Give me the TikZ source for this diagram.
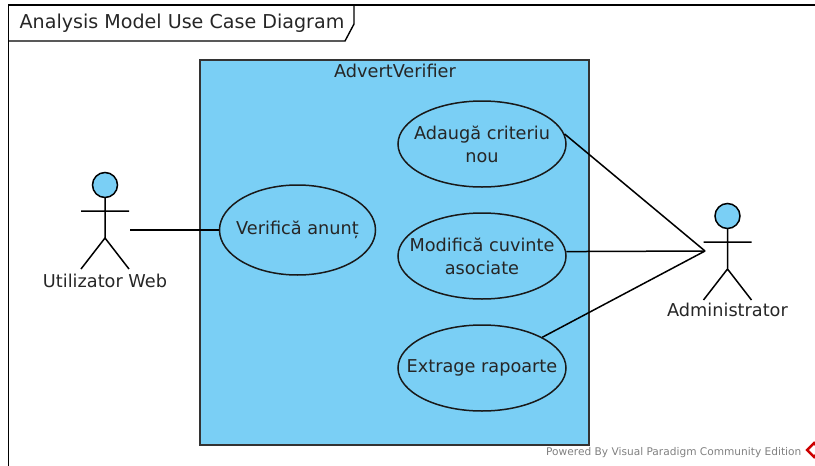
\documentclass[tikz,border=0pt]{standalone}
\usepackage{fontspec}
\setmainfont{DejaVu Sans}
\usepackage{tikz}
\usetikzlibrary{matrix,chains,scopes,shapes.geometric}

\definecolor{vpblue}{HTML}{7ACFF5}
\tikzset{
    usecase/.style={draw=black!90, fill=vpblue, ellipse, line width=1.5pt, inner xsep=-25pt, inner ysep=0pt,
        minimum width=168pt, minimum height=86pt, align=center, font=\fontsize{17.7}{23}\selectfont, text=black!85},
    actorlabel/.style={font=\fontsize{17.7}{21}\selectfont, text=black!85, inner sep=0pt},
    pics/stickman/.style={code={
        \draw[line width=1.5pt, fill=vpblue] (0,0) circle (12.5);
        \draw[line width=1.5pt] (0,12.5) -- (0,53) (-24,26) -- (24,26)
            (-24,84) -- (0,53) -- (24,84);
    }}
}

\begin{document}
\begin{tikzpicture}[
    x=1pt, y=-1pt,
    every on chain/.append style={join},
    every join/.style={line width=1.5pt}
    ]
    \useasboundingbox (0,0) rectangle (815,466);
    % frame and its tab
    \draw[line width=1.4pt] (8.5,466) -- (8.5,5) -- (815,5);
    \draw[line width=1.4pt] (8.5,41) -- (345,41) -- (354,24) -- (354,5);
    \node[font=\fontsize{19.1}{23}\selectfont, text=black!85, inner sep=0pt] (frametitle) at (182,23) {Analysis Model Use Case Diagram};

    % system box
    \node[draw=black!80, fill=vpblue, line width=1.8pt, minimum width=389pt, minimum height=385pt, inner sep=0pt] (system) at (394.5,252.5) {};
    \node[font=\fontsize{17.7}{21}\selectfont, text=black!85, inner sep=0pt] (systemtitle) at (395,71) {AdvertVerifier};

    \matrix (m) [row sep=24.5pt] at (482,256)
    {
        \node[usecase] (adauga) {Adaugă criteriu\\nou}; \\
        \node[usecase] (modifica) {Modifică cuvinte\\asociate}; \\
        \node[usecase] (extrage) {Extrage rapoarte}; \\
    };
    \node[usecase, minimum width=156pt, minimum height=90pt] (verifica) at (297.5,230) {Verifică anunț};

    % actors
    \pic at (105,185) {stickman};
    \pic at (727.5,216) {stickman};
    \node[actorlabel] (web) at (105,281) {Utilizator Web};
    \node[actorlabel] (admin) at (727.5,310) {Administrator};
    \coordinate (webhand) at (130,230);
    \coordinate (adminhand) at (705,251);

    { [start chain]
        \chainin (webhand);
        \chainin (verifica);
    }
    \draw[line width=1.5pt] (adauga.7.5) -- (adminhand);
    \draw[line width=1.5pt] (modifica.3.4) -- (adminhand);
    \draw[line width=1.5pt] (extrage.27) -- (adminhand);

    \node[font=\fontsize{10.6}{12}\selectfont, text=black!50, inner sep=0pt, anchor=west] (powered) at (546,452.5) {Powered By Visual Paradigm Community Edition};
    \node[diamond, draw=red!80!black, line width=2.5pt, inner sep=0pt, minimum size=15pt] (logo) at (814,450) {};
\end{tikzpicture}
\end{document}
